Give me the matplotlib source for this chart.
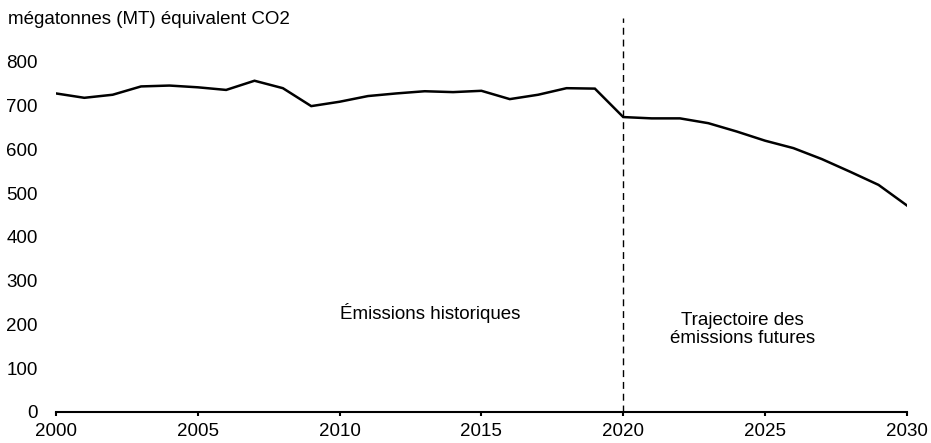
import matplotlib.pyplot as plt

plt.rcParams["font.family"] = ["Liberation Sans", "DejaVu Sans"]
plt.rcParams["font.size"] = 13.5

# Émissions de GES (MT éq. CO2), historiques puis trajectoire projetée
years = list(range(2000, 2031))
emissions = [728, 718, 725, 744, 746, 742, 736, 757, 740, 699,
             709, 722, 728, 733, 731, 734, 715, 725, 740, 739,
             674, 671, 671, 660, 641, 620, 603, 578, 549, 519, 472]

y_ticks = [0, 100, 200, 300, 400, 500, 600, 700, 800]
x_ticks = [2000, 2005, 2010, 2015, 2020, 2025, 2030]
split_year = 2020

fig = plt.figure(figsize=(9.31, 4.43), dpi=100)
ax = fig.add_axes([0.0601, 0.070, 0.914, 0.889])

ax.plot(years, emissions, color="black", linewidth=1.8, solid_joinstyle="miter")
ax.axvline(split_year, color="black", linewidth=1.0, linestyle=(0, (5, 3.5)))

ax.set_xlim(2000, 2030)
ax.set_ylim(0, 900)
ax.set_xticks(x_ticks)
ax.set_yticks(y_ticks)

for side in ("top", "right", "left"):
    ax.spines[side].set_visible(False)
ax.spines["bottom"].set_linewidth(1.5)
ax.tick_params(axis="y", length=0, pad=13)
ax.tick_params(axis="x", length=3, width=1.5, pad=5)

ax.text(2013.2, 226, "Émissions historiques", ha="center", va="center")
ax.text(2024.2, 189, "Trajectoire des\némissions futures", ha="center", va="center",
        linespacing=1.1)

fig.text(8 / 931, 1 - 20 / 443, "mégatonnes (MT) équivalent CO2", ha="left", va="center")

fig.savefig("out.png", dpi=100)
